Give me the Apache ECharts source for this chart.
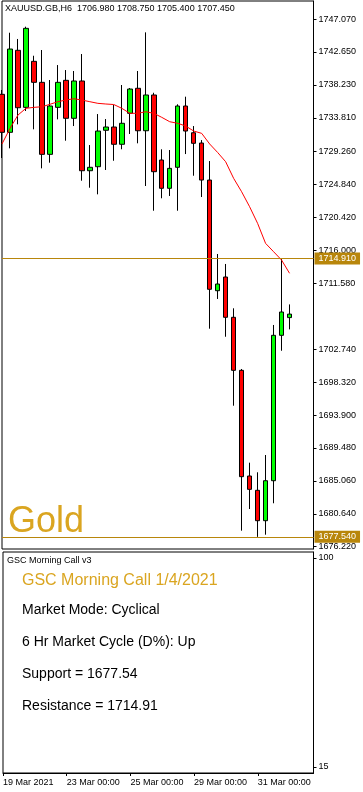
<!DOCTYPE html>
<html><head><meta charset="utf-8">
<script src="https://cdn.jsdelivr.net/npm/echarts@6/dist/echarts.min.js"></script>
<style>html,body{margin:0;padding:0;background:#fff}#c{width:363px;height:792px}</style>
</head><body><div id="c"></div>
<script>
const categories = [
 '2021.03.19 00:00','2021.03.19 06:00','2021.03.19 12:00','2021.03.19 18:00',
 '2021.03.22 00:00','2021.03.22 06:00','2021.03.22 12:00','2021.03.22 18:00',
 '2021.03.23 00:00','2021.03.23 06:00','2021.03.23 12:00','2021.03.23 18:00',
 '2021.03.24 00:00','2021.03.24 06:00','2021.03.24 12:00','2021.03.24 18:00',
 '2021.03.25 00:00','2021.03.25 06:00','2021.03.25 12:00','2021.03.25 18:00',
 '2021.03.26 00:00','2021.03.26 06:00','2021.03.26 12:00','2021.03.26 18:00',
 '2021.03.29 00:00','2021.03.29 06:00','2021.03.29 12:00','2021.03.29 18:00',
 '2021.03.30 00:00','2021.03.30 06:00','2021.03.30 12:00','2021.03.30 18:00',
 '2021.03.31 00:00','2021.03.31 06:00','2021.03.31 12:00','2021.03.31 18:00',
 '2021.04.01 00:00','2021.04.01 06:00','2021.04.01 12:00','2021.04.01 18:00'
];
const opens  = [1736.96,1731.86,1742.87,1735.21,1741.39,1738.57,1728.90,1735.21,1738.84,1733.74,1738.75,1726.70,1727.24,1732.13,1732.57,1730.25,1734.41,1737.77,1732.07,1736.87,1728.14,1724.34,1727.16,1735.39,1731.80,1730.42,1725.45,1710.59,1712.43,1707.02,1699.90,1685.71,1683.79,1679.71,1685.08,1704.60,1706.98];
const highs  = [1737.54,1745.23,1744.39,1746.04,1742.14,1742.91,1738.88,1740.89,1740.22,1740.09,1742.37,1730.15,1734.31,1733.64,1735.52,1738.21,1737.81,1740.09,1745.28,1737.17,1729.58,1729.48,1735.62,1736.64,1732.70,1730.82,1728.00,1715.52,1714.18,1708.23,1700.08,1687.50,1686.21,1688.53,1705.99,1714.91,1708.75];
const lows   = [1728.41,1729.71,1732.93,1734.72,1732.26,1727.02,1727.78,1733.60,1730.73,1732.70,1725.36,1724.42,1723.53,1726.80,1728.04,1729.58,1731.63,1730.38,1724.65,1721.33,1723.00,1723.31,1721.33,1728.94,1726.03,1723.17,1705.49,1709.48,1704.41,1695.15,1678.37,1681.28,1677.54,1677.83,1682.05,1702.53,1705.40];
const closes = [1731.86,1743.04,1735.16,1745.82,1738.57,1728.90,1735.39,1738.57,1733.74,1738.75,1726.70,1727.16,1732.03,1732.57,1730.25,1733.07,1737.67,1732.07,1736.87,1726.57,1724.34,1727.02,1735.39,1732.03,1730.38,1725.45,1710.78,1711.49,1707.02,1699.90,1685.62,1683.92,1679.71,1685.08,1704.60,1707.73,1707.45];
const maValues = [1730.29,1732.39,1734.18,1735.08,1735.21,1735.29,1735.62,1735.97,1736.19,1736.37,1736.19,1735.97,1735.75,1735.66,1735.59,1735.08,1734.41,1734.41,1734.62,1734.41,1733.87,1733.28,1733.07,1732.70,1732.03,1731.72,1730.29,1729.15,1727.91,1725.68,1723.88,1721.87,1719.64,1716.95,1715.83,1714.71,1712.93];
const priceTicks = [1747.07,1742.65,1738.23,1733.81,1729.26,1724.84,1720.42,1716.00,1711.58,1702.74,1698.32,1693.90,1689.48,1685.06,1680.64,1676.22];
const subTicks = [100, 15];
const xTickCats  = ['2021.03.19 00:00','2021.03.23 00:00','2021.03.25 00:00','2021.03.29 00:00','2021.03.31 00:00'];
const xTickTexts = ['19 Mar 2021','23 Mar 00:00','25 Mar 00:00','29 Mar 00:00','31 Mar 00:00'];
const resistance = 1714.91, support = 1677.54, lastPrice = 1707.45;
const headerText = 'XAUUSD.GB,H6  1706.980 1708.750 1705.400 1707.450';
const panelLines = ['Market Mode: Cyclical','6 Hr Market Cycle (D%): Up','Support = 1677.54','Resistance = 1714.91'];

const FF = 'Liberation Sans, Arial, sans-serif';
const candleData = opens.map((o,i)=>[o, closes[i], lows[i], highs[i]]);
const isTick = (idx, val) => xTickCats.indexOf(val) >= 0;

const chart = echarts.init(document.getElementById('c'), null, {renderer:'canvas'});
const gold = '#B8860B';
chart.setOption({
  animation:false,
  backgroundColor:'#fff',
  grid:[
    {left:2, top:1, width:311.5, height:548, show:true, borderColor:'#000', borderWidth:1, backgroundColor:'transparent'},
    {left:2, top:552, width:311.5, height:221, show:true, borderColor:'#000', borderWidth:1, backgroundColor:'transparent'}
  ],
  xAxis:[
    {type:'category', gridIndex:0, data:categories, boundaryGap:false, axisLine:{show:false}, axisTick:{show:false}, axisLabel:{show:false}, splitLine:{show:false}},
    {type:'category', gridIndex:1, data:categories, boundaryGap:false,
     axisLine:{show:true, lineStyle:{color:'#000'}},
     axisTick:{show:true, interval:isTick, length:3, lineStyle:{color:'#000'}},
     axisLabel:{show:true, interval:isTick, align:'left', margin:5, fontSize:9, fontFamily:FF, color:'#000',
       formatter:(v)=>{const k=xTickCats.indexOf(v); return k>=0?xTickTexts[k]:'';}},
     splitLine:{show:false}}
  ],
  yAxis:[
    {type:'value', gridIndex:0, position:'right', min:1675.91, max:1749.49, scale:true,
     axisLine:{show:true, lineStyle:{color:'#000'}},
     axisTick:{show:true, customValues:priceTicks, length:3, lineStyle:{color:'#000'}},
     axisLabel:{show:true, customValues:priceTicks, margin:5, fontSize:9, fontFamily:FF, color:'#000', formatter:(v)=>v.toFixed(3)},
     splitLine:{show:false}},
    {type:'value', gridIndex:1, position:'right', min:12.56, max:102.44,
     axisLine:{show:true, lineStyle:{color:'#000'}},
     axisTick:{show:true, customValues:subTicks, length:3, lineStyle:{color:'#000'}},
     axisLabel:{show:true, customValues:subTicks, margin:5, fontSize:9, fontFamily:FF, color:'#000'},
     splitLine:{show:false}}
  ],
  series:[
    {type:'candlestick', xAxisIndex:0, yAxisIndex:0, data:candleData, barWidth:5, clip:true,
     itemStyle:{color:'#00ff00', color0:'#ff0000', borderColor:'#000', borderColor0:'#000', borderWidth:1},
     markLine:{silent:true, symbol:'none', animation:false,
       label:{show:true, position:'end', distance:1, fontSize:9, fontFamily:FF, color:'#fff', padding:[2,4,1,4],
              formatter:(p)=>Number(p.value).toFixed(3)},
       data:[
         {yAxis:resistance, lineStyle:{color:gold, width:1, type:'solid'}, label:{backgroundColor:gold}},
         {yAxis:support, lineStyle:{color:gold, width:1, type:'solid'}, label:{backgroundColor:gold}},
         {yAxis:lastPrice, lineStyle:{opacity:0}, label:{backgroundColor:'#000'}}
       ]}
    },
    {type:'line', xAxisIndex:0, yAxisIndex:0, data:maValues, showSymbol:false, symbol:'none',
     lineStyle:{color:'#ff0000', width:1}, z:3, silent:true},
    {type:'line', xAxisIndex:1, yAxisIndex:1, data:[], showSymbol:false}
  ],
  graphic:[
    {type:'text', left:5, top:4, style:{text:headerText, font:'9px '+FF, fill:'#000'}},
    {type:'text', x:8, y:522, style:{text:'Gold', font:'36px '+FF, fill:'#DAA520', textVerticalAlign:'middle'}},
    {type:'text', x:7, y:561, style:{text:'GSC Morning Call v3', font:'9px '+FF, fill:'#000', textVerticalAlign:'middle'}},
    {type:'text', x:22, y:581, style:{text:'GSC Morning Call 1/4/2021', font:'16px '+FF, fill:'#DAA520', textVerticalAlign:'middle'}},
    {type:'text', x:22, y:610, style:{text:panelLines[0], font:'14px '+FF, fill:'#000', textVerticalAlign:'middle'}},
    {type:'text', x:22, y:642, style:{text:panelLines[1], font:'14px '+FF, fill:'#000', textVerticalAlign:'middle'}},
    {type:'text', x:22, y:674, style:{text:panelLines[2], font:'14px '+FF, fill:'#000', textVerticalAlign:'middle'}},
    {type:'text', x:22, y:706, style:{text:panelLines[3], font:'14px '+FF, fill:'#000', textVerticalAlign:'middle'}}
  ]
});
</script></body></html>
